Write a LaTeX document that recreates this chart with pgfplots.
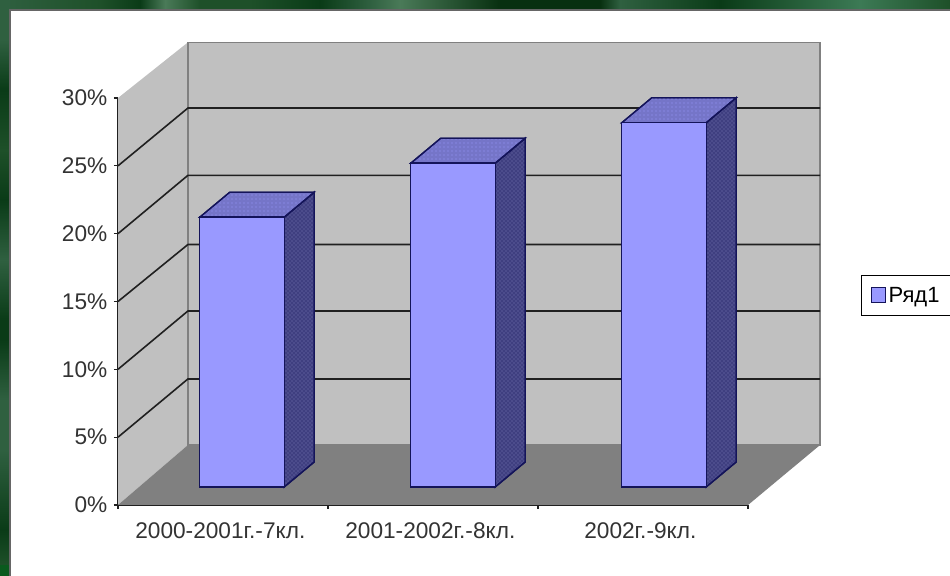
\documentclass[border=0pt]{standalone}
\usepackage{fontspec}
\setmainfont{Liberation Sans}
\usepackage{pgfplots}
\pgfplotsset{compat=1.18}
\usetikzlibrary{patterns}
\definecolor{wall}{HTML}{C0C0C0}
\definecolor{floorc}{HTML}{808080}
\definecolor{barfront}{HTML}{9999FF}
\definecolor{barside}{HTML}{4C4C8C}
\definecolor{bartop}{HTML}{7575C8}
\definecolor{baredge}{HTML}{14145A}
\definecolor{gridc}{HTML}{202020}
% mottled green of the slide behind the chart
\definecolor{ga}{HTML}{0A3B17}
\definecolor{gb}{HTML}{1E5029}
\definecolor{gc}{HTML}{2F6040}
\definecolor{gd}{HTML}{4A7A58}
\definecolor{ge}{HTML}{083010}
\definecolor{gf}{HTML}{3C7A55}
\definecolor{gg}{HTML}{0A5A1E}

\begin{document}
\begin{tikzpicture}[x=0.75pt,y=0.75pt]
    % page, y counted from the bottom of the 950x575 picture (1 px = 0.75pt)
    \path[use as bounding box] (0,0) rectangle (950,575);
    \fill[gb] (0,0) rectangle (950,575);
    \foreach \xa/\xb/\ca/\cb in {0/100/gc/gb,100/140/gb/ga,140/165/ga/gd,165/200/gd/gb,200/250/gb/gb,
        250/320/gb/ga,320/370/ga/gc,370/400/gc/gd,400/500/gd/ge,500/600/ge/ge,600/620/ge/gc,
        620/720/gc/ga,720/860/ga/gf,860/950/gf/gb}
        \shade[left color=\ca,right color=\cb] (\xa,560) rectangle (\xb,575);
    \foreach \ya/\yb/\ca/\cb in {0/10/gg/gg,10/45/gb/ga,45/125/ga/gc,125/175/gc/gc,175/235/gc/ga,
        235/255/ga/ga,255/315/ga/gc,315/375/gc/ga,375/425/ga/gb,425/485/gb/ga,485/535/ga/gc,535/575/gc/gc}
        \shade[bottom color=\ca,top color=\cb] (0,\ya) rectangle (10,\yb);
    \fill[white] (10,-5) rectangle (955,565);
    \draw[black!60,line width=1.2pt] (10,-5) -- (10,565) -- (955,565);

    % walls, floor, grid lines and ticks
    \begin{axis}[
        at={(88.5pt,52.5pt)},
        anchor=south west,
        scale only axis,
        width=472.5pt,
        height=305.25pt,
        xmin=0, xmax=3,
        ymin=0, ymax=30,
        clip=false,
        axis y line*=left,
        axis x line*=bottom,
        axis line style={-,gridc,line width=1.1pt},
        tick align=outside,
        major tick length=3pt,
        xtick={0.5,1.5,2.5},
        xticklabels={2000-2001г.-7кл.,2001-2002г.-8кл.,2002г.-9кл.},
        minor xtick={0,1,2,3},
        ytick={0,5,10,15,20,25,30},
        yticklabels={0\%,5\%,10\%,15\%,20\%,25\%,30\%},
        tick style={gridc,line width=0.9pt},
        x tick style={draw=none},
        minor x tick style={draw=gridc,line width=0.9pt},
        minor tick length=3pt,
        ticklabel style={font=\fontsize{17pt}{19pt}\selectfont,text=black!80},
        xtick pos=bottom,
        ytick pos=left,
        x tick label style={yshift=-6.5pt,xshift=-2pt},
        y tick label style={xshift=-1.5pt},
    ]
    % left wall
    \addplot[fill=wall,draw=none] coordinates {(0,0) (0,30) (0.333,34.1) (0.333,4.42)} -- cycle;
    % back wall
    \addplot[fill=wall,draw=floorc,line width=0.9pt] coordinates {(0.333,4.42) (0.333,34.1) (3.343,34.1) (3.343,4.42)} -- cycle;
    % floor
    \addplot[fill=floorc,draw=none] coordinates {(0,0) (3,0) (3.343,4.42) (0.333,4.42)} -- cycle;
    % grid lines
    \addplot[gridc,line width=1.2pt] coordinates {(0,5) (0.333,9.29) (3.343,9.29)};
    \addplot[gridc,line width=1.2pt] coordinates {(0,10) (0.333,14.3) (3.343,14.3)};
    \addplot[gridc,line width=1.2pt] coordinates {(0,15) (0.333,19.2) (3.343,19.2)};
    \addplot[gridc,line width=1.2pt] coordinates {(0,20) (0.333,24.3) (3.343,24.3)};
    \addplot[gridc,line width=1.2pt] coordinates {(0,25) (0.333,29.26) (3.343,29.26)};
    \end{axis}

    % the bars, on a plane that stands in front of the back wall
    \begin{axis}[
        at={(102.4pt,66pt)},
        anchor=south west,
        scale only axis,
        width=474.75pt,
        height=303.6pt,
        xmin=-0.5, xmax=2.5,
        ymin=0, ymax=30,
        clip=false,
        hide axis,
        legend style={
            at={(1.1445,0.4225)},
            anchor=south west,
            draw=black,
            line width=0.8pt,
            font=\fontsize{16.5pt}{18pt}\selectfont,
            inner xsep=7pt,
            inner ysep=6.5pt,
        },
        legend image code/.code={
            \draw[fill=barfront,draw=baredge,line width=0.8pt] (0pt,-5pt) rectangle (10.5pt,6pt);
        },
    ]
    \addplot[forget plot,fill=barside,draw=baredge,line width=1pt,postaction={pattern=crosshatch dots,pattern color=baredge}] coordinates {(0.2,0) (0.342,1.85) (0.342,21.85) (0.2,20)} -- cycle;
    \addplot[forget plot,fill=bartop,draw=baredge,line width=1pt,postaction={pattern=dots,pattern color=barfront}] coordinates {(-0.2,20) (-0.058,21.85) (0.342,21.85) (0.2,20)} -- cycle;
    \addplot[forget plot,fill=barside,draw=baredge,line width=1pt,postaction={pattern=crosshatch dots,pattern color=baredge}] coordinates {(1.2,0) (1.342,1.85) (1.342,25.85) (1.2,24)} -- cycle;
    \addplot[forget plot,fill=bartop,draw=baredge,line width=1pt,postaction={pattern=dots,pattern color=barfront}] coordinates {(0.8,24) (0.942,25.85) (1.342,25.85) (1.2,24)} -- cycle;
    \addplot[forget plot,fill=barside,draw=baredge,line width=1pt,postaction={pattern=crosshatch dots,pattern color=baredge}] coordinates {(2.2,0) (2.342,1.85) (2.342,28.85) (2.2,27)} -- cycle;
    \addplot[forget plot,fill=bartop,draw=baredge,line width=1pt,postaction={pattern=dots,pattern color=barfront}] coordinates {(1.8,27) (1.942,28.85) (2.342,28.85) (2.2,27)} -- cycle;
    \addplot[ybar,bar width=63.4pt,fill=barfront,draw=baredge,line width=1pt] coordinates {(0,20) (1,24) (2,27)};
    \addlegendentry{Ряд1}
    \end{axis}
\end{tikzpicture}
\end{document}
